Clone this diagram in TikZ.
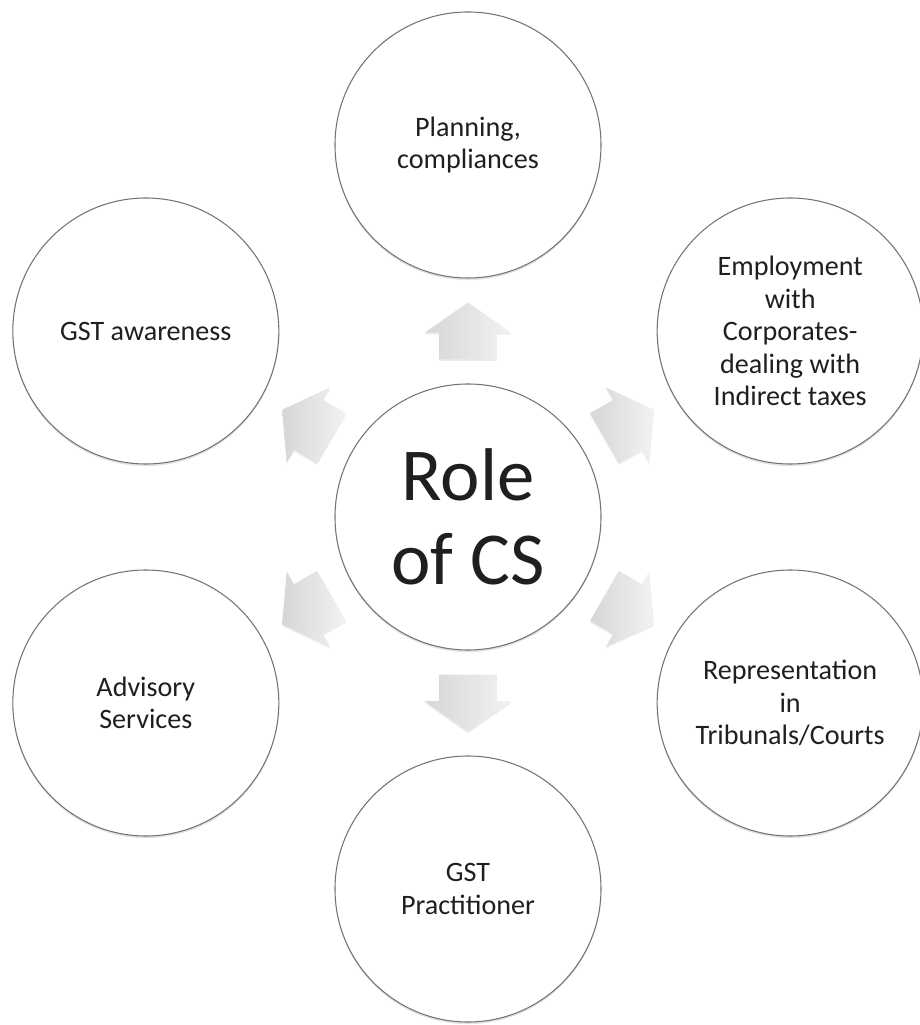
\documentclass[tikz,border=0pt]{standalone}
\usepackage{fontspec}
\setmainfont{Carlito}
\usetikzlibrary{shapes.arrows,shadows}
\begin{document}
\begin{tikzpicture}[
  bubble/.style={draw=black!55,line width=0.6pt,circle,fill=white,minimum size=5.32cm,inner sep=0pt,align=center,text=black!88,font=\fontsize{16}{18.5}\selectfont,drop shadow={opacity=0.22,shadow xshift=0pt,shadow yshift=-1.2pt}},
  blockarrow/.style={single arrow,draw=none,inner xsep=0pt,inner ysep=0.57cm,minimum height=1.14cm,single arrow head extend=0.29cm,single arrow tip angle=110,left color=gray!32,right color=gray!10,drop shadow={opacity=0.15,shadow xshift=0pt,shadow yshift=-1pt}}
]
\useasboundingbox (-9.36,-10.16) rectangle (9.04,10.34);
\node[bubble,font=\fontsize{42.5}{48}\selectfont] (r) at (0,0) {Role\\of CS};

\node[bubble] (p) at (90:7.44) {Planning,\\compliances};
\node[bubble] (e) at (30:7.44) {Employment\\with\\Corporates-\\dealing with\\Indirect taxes};
\node[bubble] (t) at (-30:7.44) {Representation\\in\\Tribunals/Courts};
\node[bubble] (g) at (-90:7.44) {GST\\Practitioner};
\node[bubble] (s) at (-150:7.44) {Advisory\\Services};
\node[bubble] (w) at (150:7.44) {GST awareness};

\node[blockarrow,rotate=90] (ap) at (90:3.52) {};
\node[blockarrow,rotate=30] (ae) at (30:3.52) {};
\node[blockarrow,rotate=-30] (at) at (-30:3.52) {};
\node[blockarrow,rotate=-90] (ag) at (-90:3.52) {};
\node[blockarrow,rotate=-150] (as) at (-150:3.52) {};
\node[blockarrow,rotate=150] (aw) at (150:3.52) {};
\end{tikzpicture}
\end{document}
